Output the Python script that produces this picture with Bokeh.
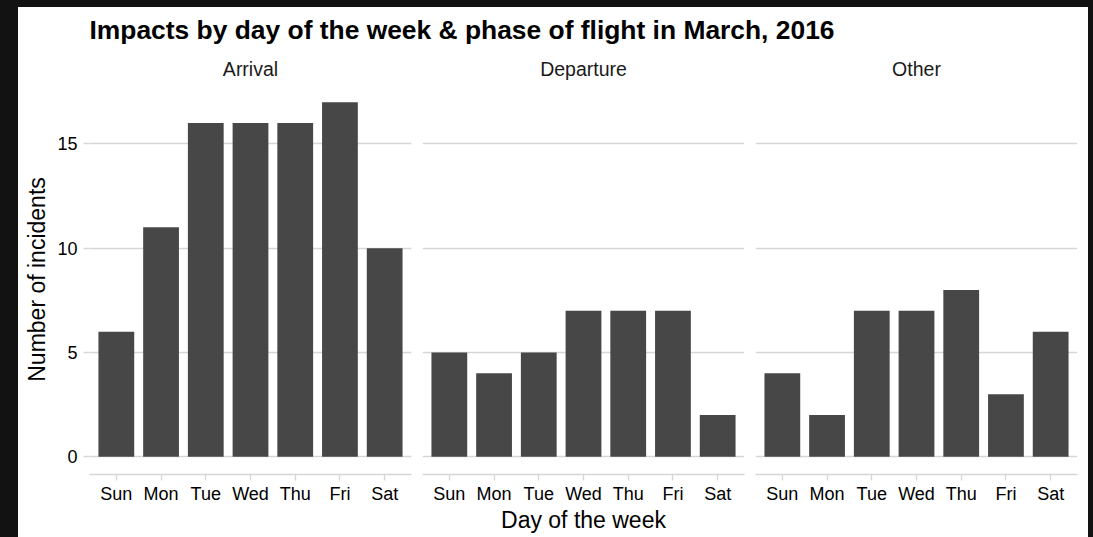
from bokeh.plotting import figure
from bokeh.layouts import column, row
from bokeh.models import FactorRange, Range1d, ColumnDataSource, Grid, FixedTicker
from bokeh.embed import file_html
from bokeh.resources import INLINE

# ---- data ----
days = ["Sun", "Mon", "Tue", "Wed", "Thu", "Fri", "Sat"]
phases = ["Arrival", "Departure", "Other"]
arrival = [6, 11, 16, 16, 16, 17, 10]
departure = [5, 4, 5, 7, 7, 7, 2]
other = [4, 2, 7, 7, 8, 3, 6]
y_ticks = [0, 5, 10, 15]

title_text = "Impacts by day of the week & phase of flight in March, 2016"
x_label = "Day of the week"
y_label = "Number of incidents"

FONT = "Liberation Sans"
BAR = "#474747"
GRID = "#d6d6d6"

series = [arrival, departure, other]

# ---- header with main title ----
header = figure(width=1070, height=43, toolbar_location=None, output_backend="svg",
                x_axis_location=None, y_axis_location=None,
                min_border_left=71, min_border_right=11, min_border_top=4, min_border_bottom=0,
                outline_line_color=None, border_fill_color="white", background_fill_color="white")
header.title.text = title_text
header.title.text_font = FONT
header.title.text_font_size = "26.4px"
header.title.text_font_style = "bold"
header.title.text_color = "#000000"
header.title.align = "left"
header.title.offset = 0
header.xgrid.visible = False
header.ygrid.visible = False

y_range = Range1d(-0.85, 17.85)

geom = [
    dict(width=398, left=71, right=5),
    dict(width=333, left=6, right=5),
    dict(width=339, left=6, right=11),
]

figs = []
for i, (phase, vals) in enumerate(zip(phases, series)):
    g = geom[i]
    src = ColumnDataSource(dict(day=days, count=vals))
    p = figure(width=g["width"], height=487, toolbar_location=None, output_backend="svg",
               x_range=FactorRange(*days, range_padding=0.1, range_padding_units="absolute"),
               y_range=y_range,
               y_axis_location="left" if i == 0 else None,
               min_border_left=g["left"], min_border_right=g["right"],
               min_border_top=34, min_border_bottom=63,
               outline_line_color=None, border_fill_color="white", background_fill_color="white")
    # remove default grids, add horizontal grid only
    p.center = [r for r in p.center if not isinstance(r, Grid)]
    p.add_layout(Grid(dimension=1, ticker=FixedTicker(ticks=y_ticks),
                      grid_line_color=GRID, grid_line_width=1.3))

    p.vbar(x="day", top="count", bottom=0, width=0.8, source=src,
           fill_color=BAR, line_color=None)

    p.title.text = phase
    p.title.align = "center"
    p.title.text_font = FONT
    p.title.text_font_size = "19.5px"
    p.title.text_font_style = "normal"
    p.title.text_color = "#1a1a1a"

    xa = p.xaxis[0]
    xa.axis_line_color = GRID
    xa.axis_line_width = 1.3
    xa.major_tick_line_color = GRID
    xa.major_tick_line_width = 1.3
    xa.major_tick_out = 6
    xa.major_tick_in = 0
    xa.minor_tick_line_color = None
    xa.major_label_text_font = FONT
    xa.major_label_text_font_size = "18px"
    xa.major_label_text_color = "#000000"
    xa.major_label_standoff = 3
    if i == 1:
        xa.axis_label = x_label
        xa.axis_label_text_font = FONT
        xa.axis_label_text_font_size = "23px"
        xa.axis_label_text_font_style = "normal"
        xa.axis_label_text_color = "#000000"
        xa.axis_label_standoff = 0

    if i == 0:
        ya = p.yaxis[0]
        ya.ticker = FixedTicker(ticks=y_ticks)
        ya.axis_line_color = None
        ya.major_tick_line_color = GRID
        ya.major_tick_line_width = 1.3
        ya.major_tick_out = 6
        ya.major_tick_in = 0
        ya.minor_tick_line_color = None
        ya.major_label_text_font = FONT
        ya.major_label_text_font_size = "18px"
        ya.major_label_text_color = "#000000"
        ya.major_label_standoff = 6
        ya.axis_label = y_label
        ya.axis_label_text_font = FONT
        ya.axis_label_text_font_size = "23px"
        ya.axis_label_text_font_style = "normal"
        ya.axis_label_text_color = "#000000"
        ya.axis_label_standoff = 4
    figs.append(p)

inner = column(header, row(*figs, spacing=0, styles={"background-color": "white"}),
               spacing=0, margin=(7, 0, 0, 18), styles={"background-color": "white"})
page = column(inner, width=1093, height=537, spacing=0,
              styles={"background-color": "#121212"})

open("out.html", "w").write(file_html(page, INLINE, title="Impacts by day of the week"))
